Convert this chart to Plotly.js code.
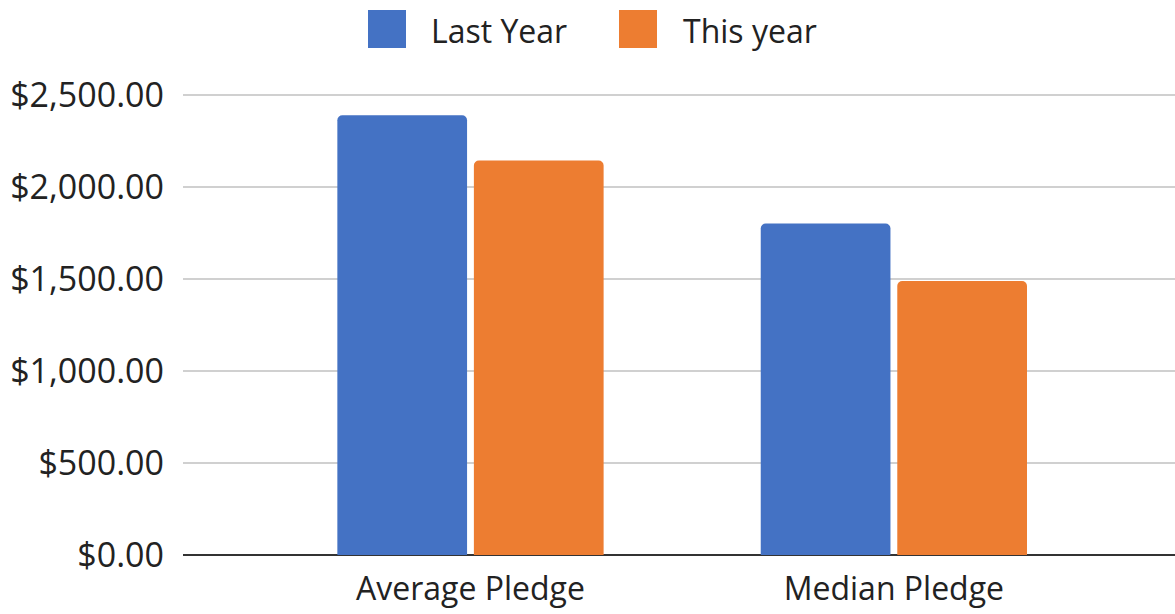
<!DOCTYPE html>
<html>
<head>
<meta charset="utf-8">
<script src="https://cdn.plot.ly/plotly-3.0.1.min.js"></script>
<style>html,body{margin:0;padding:0;background:#fff;}#chart{width:1175px;height:614px;}</style>
</head>
<body>
<div id="chart"></div>
<script>
const categories = ["Average Pledge", "Median Pledge"];
const seriesNames = ["Last Year", "This year"];
const lastYear = [2388, 1800];
const thisYear = [2143, 1488];
const colors = ["#4472C4", "#ED7D31"];

const W = 1175, H = 614;
const mL = 183, mR = 0, mT = 91, mB = 59;
const plotW = W - mL - mR, plotH = H - mT - mB;
const px2x = px => (px - mL) / plotW;
const py2y = py => (H - mB - py) / plotH;

const font = "'Open Sans', 'Noto Sans', sans-serif";

const traces = [
  {type: "bar", name: seriesNames[0], x: categories, y: lastYear, marker: {color: colors[0]}, showlegend: false},
  {type: "bar", name: seriesNames[1], x: categories, y: thisYear, marker: {color: colors[1]}, showlegend: false}
];

// custom legend (large swatches)
const legendItems = [
  {sq: 368, tx: 432},
  {sq: 619, tx: 684}
];
const shapes = [], annotations = [];
legendItems.forEach((it, i) => {
  shapes.push({type: "rect", xref: "paper", yref: "paper",
    x0: px2x(it.sq), x1: px2x(it.sq + 38), y0: py2y(48), y1: py2y(10),
    fillcolor: colors[i], line: {width: 0}});
  annotations.push({xref: "paper", yref: "paper", x: px2x(it.tx - 3), y: py2y(30),
    xanchor: "left", yanchor: "middle", showarrow: false, text: seriesNames[i],
    font: {family: font, size: 32, color: "#222"}});
});

const layout = {
  width: W, height: H,
  margin: {l: mL, r: mR, t: mT, b: mB, pad: 0},
  paper_bgcolor: "#fff", plot_bgcolor: "#fff",
  barmode: "group", bargap: 0.355, bargroupgap: 0.05,
  barcornerradius: 5,
  showlegend: false,
  xaxis: {
    range: [-0.679, 1.664], fixedrange: true,
    showgrid: false, zeroline: false, showline: false, ticks: "",
    tickfont: {family: font, size: 32, color: "#222"},
    ticklabelstandoff: 12
  },
  yaxis: {
    range: [0, 2520], tickvals: [0, 500, 1000, 1500, 2000, 2500],
    tickformat: "$,.2f",
    showgrid: true, gridcolor: "#d0d0d0", gridwidth: 2,
    zeroline: true, zerolinecolor: "#333", zerolinewidth: 2,
    showline: false, ticks: "",
    tickfont: {family: font, size: 34, color: "#222"},
    ticklabelstandoff: 18
  },
  shapes: shapes,
  annotations: annotations,
  font: {family: font}
};

Plotly.newPlot("chart", traces, layout, {displayModeBar: false, staticPlot: true});
</script>
</body>
</html>
